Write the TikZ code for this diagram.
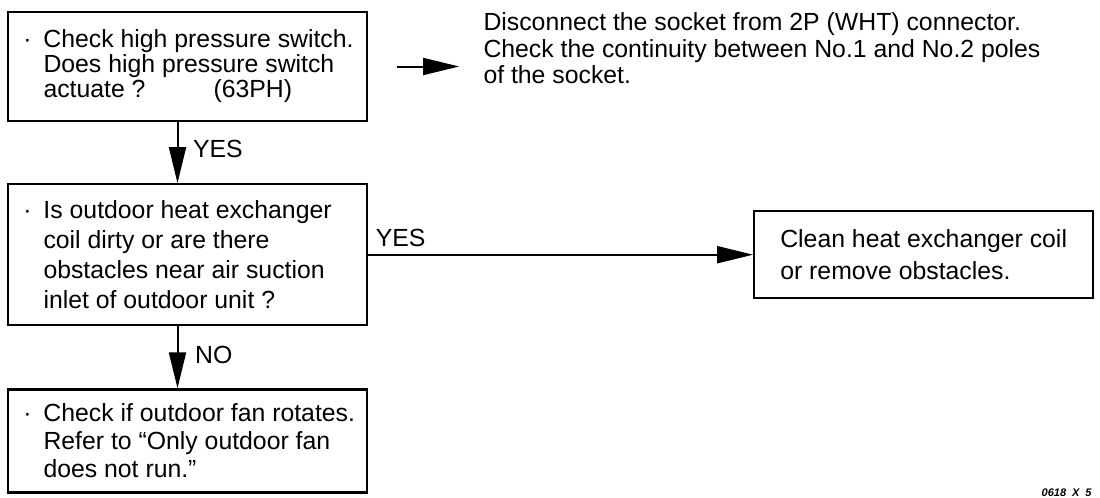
\documentclass[tikz,border=0pt]{standalone}
\usepackage{fontspec}
\setmainfont{Liberation Sans}
\usetikzlibrary{positioning, arrows.meta}

\newcommand{\bul}{\hspace*{5pt}\makebox[10pt][l]{·}}
\newcommand{\ind}{\hspace*{15pt}}

\begin{document}
\begin{tikzpicture}[
    >={Triangle[length=18pt, width=8.5pt]}, % Solid triangle tips
    % Styles
    chk/.style={ % Check step box
        rectangle,
        draw,
        line width=1.1pt,
        align=flush left,
        text width=174pt,
        inner xsep=2.75pt,
        inner ysep=0pt,
        font=\fontsize{12.4}{12.5}\selectfont
    },
    fix/.style={ % Remedy box
        rectangle,
        draw,
        line width=1.1pt,
        align=left,
        minimum width=169.5pt,
        minimum height=43.5pt,
        font=\fontsize{12.4}{16}\selectfont
    },
    note/.style={ % Free text
        align=left,
        inner sep=0pt,
        font=\fontsize{12.4}{13.25}\selectfont
    },
    answer/.style={ % YES / NO label
        font=\fontsize{12.4}{12.4}\selectfont
    },
    arrow/.style={
        ->,
        line width=1pt
    },
    tag/.style={ % Figure code
        inner sep=0pt,
        font=\fontsize{5.5}{6}\selectfont\bfseries\itshape
    }
]
    \useasboundingbox (0,0) rectangle (550pt,-249pt);

    % Left column
    \node[chk, minimum height=54.5pt] (switch) at (93.75pt,-33.25pt)
        {\bul Check high pressure switch.\\
         \ind Does high pressure switch\\
         \ind actuate ?\hspace{34pt}(63PH)};
    \node[chk, minimum height=70.5pt, font=\fontsize{12.4}{15}\selectfont,
        below=30.5pt of switch] (coil)
        {\bul Is outdoor heat exchanger\\
         \ind coil dirty or are there\\
         \ind obstacles near air suction\\
         \ind inlet of outdoor unit ?};
    \node[chk, minimum height=51.5pt, font=\fontsize{12.4}{14}\selectfont,
        below=31pt of coil] (fan)
        {\bul Check if outdoor fan rotates.\\
         \ind Refer to “Only outdoor fan\\
         \ind does not run.”};

    % Right side
    \node[fix, right=192.5pt of coil] (clean)
        {Clean heat exchanger coil\\or remove obstacles.};
    \node[note, right=57.5pt of switch, yshift=9pt] (socket)
        {Disconnect the socket from 2P (WHT) connector.\\
         Check the continuity between No.1 and No.2 poles\\
         of the socket.};

    % Arrows
    \draw[arrow] ([xshift=-5pt]switch.south) -- ([xshift=-5pt]coil.north)
        node[answer, midway, right, xshift=4pt, yshift=2pt] (yes1) {YES};
    \draw[arrow] ([xshift=-5pt]coil.south) -- ([xshift=-5pt]fan.north)
        node[answer, midway, right, xshift=5pt, yshift=1pt] (no) {NO};
    \draw[arrow] (coil.east) -- (clean.west)
        node[answer, pos=0, above right] (yes2) {YES};

    \coordinate (t1) at ([xshift=14.5pt]switch.east);
    \coordinate (t2) at ([xshift=-12pt]socket.west |- switch.east);
    \draw[arrow] (t1) -- (t2);

    % Figure code
    \node[tag, anchor=east] (code) at (546pt,-246.5pt)
        {0618\hspace{3pt}X\hspace{3pt}5};
\end{tikzpicture}
\end{document}
